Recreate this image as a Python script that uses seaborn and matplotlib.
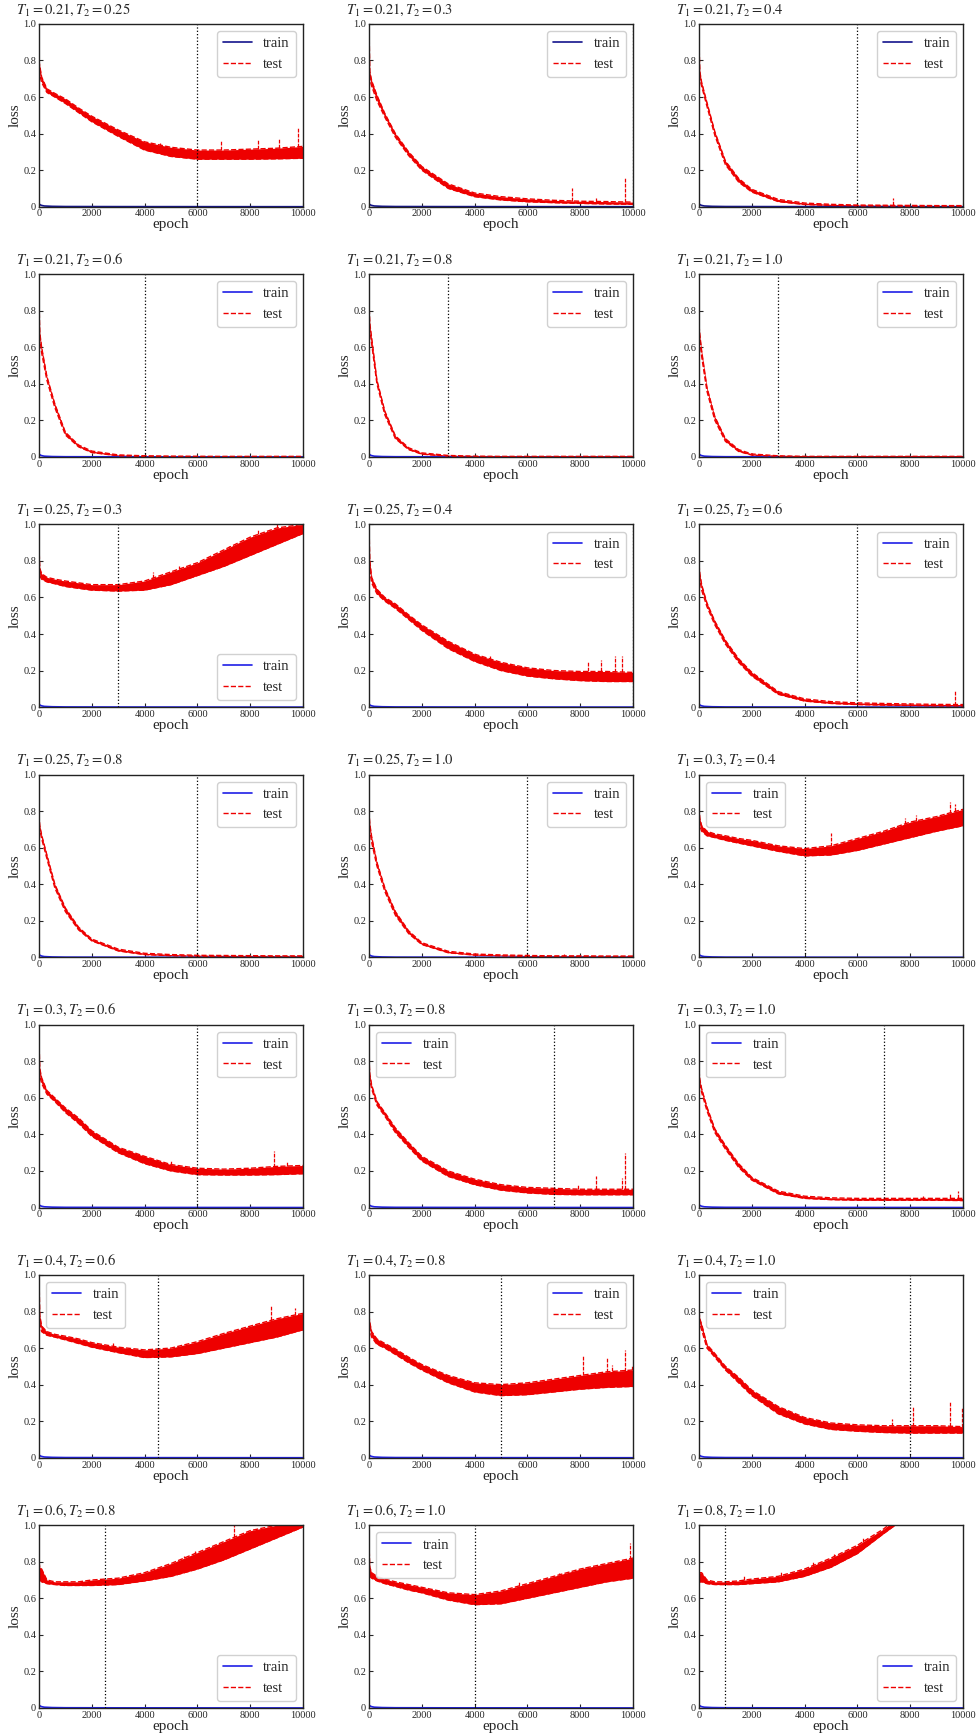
import numpy as np
import matplotlib
matplotlib.use("Agg")
import matplotlib.pyplot as plt
import seaborn as sns

# ---------------- data ----------------
T1 = ['0.21'] * 6 + ['0.25'] * 5 + ['0.3'] * 4 + ['0.4'] * 3 + ['0.6', '0.6', '0.8']
T2 = ['0.25', '0.3', '0.4', '0.6', '0.8', '1.0',
      '0.3', '0.4', '0.6', '0.8', '1.0',
      '0.4', '0.6', '0.8', '1.0',
      '0.6', '0.8', '1.0',
      '0.8', '1.0', '1.0']

epochs = [0, 30, 100, 300, 600, 1000, 1500, 2000, 3000, 4000, 5000, 6000, 7000, 8000, 9000, 10000]

train_epochs = [0, 50, 100, 200, 500, 1000, 3000, 10000]
train_loss = [0.015, 0.010, 0.007, 0.004, 0.002, 0.001, 0.0005, 0.0]

test_lo = [
    [0.75, 0.72, 0.68, 0.625, 0.60, 0.565, 0.515, 0.465, 0.385, 0.31, 0.275, 0.26, 0.26, 0.26, 0.262, 0.265],
    [0.72, 0.70, 0.66, 0.58, 0.49, 0.38, 0.28, 0.20, 0.10, 0.055, 0.037, 0.027, 0.022, 0.018, 0.015, 0.013],
    [0.72, 0.70, 0.66, 0.55, 0.39, 0.23, 0.135, 0.08, 0.028, 0.012, 0.007, 0.005, 0.004, 0.003, 0.003, 0.003],
    [0.70, 0.65, 0.57, 0.42, 0.27, 0.12, 0.055, 0.024, 0.006, 0.003, 0.002, 0.002, 0.001, 0.001, 0.001, 0.001],
    [0.75, 0.70, 0.62, 0.40, 0.23, 0.10, 0.04, 0.015, 0.004, 0.002, 0.001, 0.001, 0.001, 0.001, 0.001, 0.001],
    [0.68, 0.64, 0.55, 0.36, 0.20, 0.085, 0.03, 0.01, 0.003, 0.001, 0.001, 0.001, 0.001, 0.001, 0.001, 0.001],
    [0.76, 0.72, 0.70, 0.685, 0.675, 0.66, 0.65, 0.64, 0.635, 0.64, 0.67, 0.72, 0.77, 0.83, 0.89, 0.95],
    [0.75, 0.75, 0.68, 0.62, 0.58, 0.54, 0.48, 0.42, 0.32, 0.25, 0.20, 0.17, 0.155, 0.145, 0.14, 0.14],
    [0.72, 0.70, 0.64, 0.55, 0.45, 0.345, 0.245, 0.17, 0.07, 0.033, 0.02, 0.014, 0.011, 0.009, 0.007, 0.006],
    [0.72, 0.70, 0.65, 0.54, 0.38, 0.25, 0.15, 0.09, 0.035, 0.015, 0.009, 0.006, 0.005, 0.004, 0.004, 0.004],
    [0.75, 0.70, 0.63, 0.50, 0.36, 0.23, 0.13, 0.07, 0.025, 0.012, 0.008, 0.005, 0.004, 0.004, 0.003, 0.003],
    [0.75, 0.72, 0.69, 0.665, 0.655, 0.64, 0.625, 0.61, 0.58, 0.555, 0.56, 0.585, 0.62, 0.655, 0.69, 0.72],
    [0.75, 0.72, 0.68, 0.62, 0.58, 0.52, 0.46, 0.39, 0.30, 0.24, 0.20, 0.18, 0.178, 0.178, 0.18, 0.185],
    [0.72, 0.70, 0.65, 0.56, 0.50, 0.41, 0.33, 0.255, 0.17, 0.125, 0.095, 0.08, 0.072, 0.07, 0.07, 0.07],
    [0.72, 0.68, 0.63, 0.53, 0.41, 0.32, 0.22, 0.15, 0.075, 0.05, 0.043, 0.04, 0.04, 0.04, 0.04, 0.038],
    [0.78, 0.74, 0.69, 0.67, 0.66, 0.645, 0.625, 0.605, 0.575, 0.548, 0.552, 0.57, 0.60, 0.63, 0.66, 0.70],
    [0.72, 0.70, 0.66, 0.62, 0.60, 0.565, 0.52, 0.48, 0.41, 0.36, 0.34, 0.345, 0.36, 0.375, 0.385, 0.39],
    [0.76, 0.73, 0.70, 0.60, 0.55, 0.48, 0.41, 0.34, 0.24, 0.185, 0.155, 0.145, 0.138, 0.135, 0.135, 0.135],
    [0.70, 0.70, 0.69, 0.68, 0.675, 0.67, 0.67, 0.67, 0.675, 0.695, 0.72, 0.76, 0.81, 0.87, 0.93, 0.99],
    [0.72, 0.72, 0.71, 0.695, 0.68, 0.665, 0.645, 0.63, 0.59, 0.565, 0.57, 0.60, 0.63, 0.66, 0.69, 0.71],
    [0.68, 0.69, 0.69, 0.68, 0.675, 0.675, 0.675, 0.68, 0.69, 0.72, 0.77, 0.845, 0.955, 1.06, 1.10, 1.15],
]

test_hi = [
    [0.80, 0.77, 0.71, 0.645, 0.62, 0.59, 0.54, 0.495, 0.42, 0.355, 0.325, 0.31, 0.31, 0.315, 0.32, 0.33],
    [1.00, 0.74, 0.69, 0.61, 0.51, 0.40, 0.30, 0.22, 0.125, 0.075, 0.055, 0.043, 0.035, 0.03, 0.028, 0.025],
    [0.90, 0.74, 0.68, 0.57, 0.41, 0.25, 0.155, 0.095, 0.04, 0.02, 0.013, 0.009, 0.008, 0.007, 0.006, 0.006],
    [0.87, 0.68, 0.60, 0.44, 0.29, 0.135, 0.065, 0.032, 0.011, 0.006, 0.004, 0.003, 0.003, 0.003, 0.003, 0.003],
    [0.85, 0.73, 0.65, 0.42, 0.25, 0.115, 0.05, 0.022, 0.008, 0.004, 0.003, 0.003, 0.003, 0.003, 0.003, 0.003],
    [0.72, 0.67, 0.58, 0.38, 0.22, 0.10, 0.04, 0.016, 0.006, 0.003, 0.003, 0.003, 0.003, 0.003, 0.003, 0.003],
    [0.88, 0.76, 0.73, 0.71, 0.70, 0.69, 0.68, 0.67, 0.67, 0.69, 0.74, 0.79, 0.86, 0.93, 0.98, 1.00],
    [1.00, 0.80, 0.71, 0.645, 0.60, 0.565, 0.505, 0.45, 0.36, 0.29, 0.245, 0.215, 0.20, 0.195, 0.195, 0.19],
    [0.78, 0.73, 0.67, 0.57, 0.47, 0.365, 0.265, 0.19, 0.085, 0.045, 0.03, 0.023, 0.02, 0.017, 0.015, 0.014],
    [0.78, 0.72, 0.67, 0.56, 0.40, 0.27, 0.165, 0.10, 0.045, 0.022, 0.015, 0.011, 0.01, 0.009, 0.008, 0.008],
    [0.80, 0.73, 0.66, 0.52, 0.38, 0.25, 0.145, 0.08, 0.033, 0.018, 0.013, 0.01, 0.008, 0.008, 0.007, 0.007],
    [0.82, 0.76, 0.72, 0.69, 0.675, 0.665, 0.65, 0.64, 0.61, 0.595, 0.61, 0.65, 0.69, 0.74, 0.77, 0.81],
    [0.92, 0.76, 0.71, 0.64, 0.60, 0.545, 0.49, 0.42, 0.33, 0.28, 0.235, 0.215, 0.21, 0.215, 0.225, 0.23],
    [0.82, 0.73, 0.67, 0.58, 0.52, 0.435, 0.355, 0.28, 0.20, 0.155, 0.125, 0.11, 0.105, 0.10, 0.10, 0.10],
    [0.75, 0.70, 0.65, 0.55, 0.43, 0.34, 0.24, 0.165, 0.09, 0.062, 0.053, 0.05, 0.05, 0.05, 0.05, 0.05],
    [1.00, 0.78, 0.72, 0.69, 0.675, 0.665, 0.65, 0.63, 0.605, 0.59, 0.60, 0.635, 0.68, 0.72, 0.76, 0.79],
    [0.78, 0.74, 0.69, 0.65, 0.625, 0.595, 0.55, 0.51, 0.45, 0.41, 0.40, 0.41, 0.43, 0.45, 0.47, 0.48],
    [0.80, 0.76, 0.73, 0.62, 0.57, 0.50, 0.44, 0.37, 0.28, 0.22, 0.19, 0.18, 0.175, 0.175, 0.175, 0.17],
    [0.80, 0.77, 0.76, 0.70, 0.69, 0.69, 0.69, 0.70, 0.71, 0.74, 0.79, 0.85, 0.91, 0.97, 1.00, 1.00],
    [0.90, 0.77, 0.74, 0.72, 0.705, 0.69, 0.675, 0.66, 0.63, 0.62, 0.64, 0.68, 0.72, 0.76, 0.79, 0.82],
    [0.74, 0.74, 0.74, 0.70, 0.69, 0.69, 0.695, 0.705, 0.72, 0.76, 0.82, 0.89, 0.98, 1.10, 1.15, 1.20],
]

spike_epochs = [
    [4600, 6900, 8300, 9100, 9800],
    [7700, 8600, 9700],
    [7350],
    [],
    [],
    [],
    [4300, 5300, 6400, 7200, 8300, 9000],
    [4600, 8300, 8800, 9300, 9600],
    [9700],
    [],
    [6000, 7400],
    [5000, 7800, 8200, 9500, 9700],
    [5000, 8900, 9400],
    [7900, 8600, 9600, 9700],
    [8500, 9500, 9800],
    [2800, 8800, 9700],
    [8100, 9000, 9200, 9700, 9950],
    [7300, 8100, 9500, 9950],
    [5500, 5900, 6700, 7400],
    [5700, 7200, 8200, 9400, 9900],
    [1700, 3100, 4300, 5100, 6200],
]
spike_tops = [
    [0.35, 0.36, 0.37, 0.37, 0.43],
    [0.10, 0.05, 0.16],
    [0.05],
    [],
    [],
    [],
    [0.74, 0.77, 0.82, 0.88, 0.97, 1.00],
    [0.28, 0.25, 0.26, 0.28, 0.28],
    [0.09],
    [],
    [0.02, 0.02],
    [0.68, 0.76, 0.78, 0.85, 0.84],
    [0.26, 0.31, 0.25],
    [0.13, 0.17, 0.16, 0.30],
    [0.065, 0.08, 0.09],
    [0.63, 0.83, 0.82],
    [0.56, 0.55, 0.51, 0.59, 0.50],
    [0.21, 0.28, 0.31, 0.27],
    [0.83, 0.86, 0.88, 1.00],
    [0.69, 0.74, 0.77, 0.80, 0.90],
    [0.72, 0.75, 0.80, 0.84, 0.93],
]

best_epoch = [6000, 10000, 6000, 4000, 3000, 3000, 3000, 10000, 6000, 6000, 6000, 4000,
              6000, 7000, 7000, 4500, 5000, 8000, 2500, 4000, 1000]

legend_loc = ['upper right'] * 6 + ['lower right', 'upper right', 'upper right',
              'upper right', 'upper right', 'upper left',
              'upper right', 'upper left', 'upper left',
              'upper left', 'upper right', 'upper left',
              'lower right', 'upper left', 'lower right']

xticks = [0, 2000, 4000, 6000, 8000, 10000]
xticklabels = ['0', '2000', '4000', '6000', '8000', '10000']
yticks = [0, 0.2, 0.4, 0.6, 0.8, 1.0]
yticklabels = ['0', '0.2', '0.4', '0.6', '0.8', '1.0']

# ---------------- style ----------------
sns.set_style('ticks')
plt.rcParams['font.family'] = ['Liberation Serif', 'DejaVu Serif']
plt.rcParams['mathtext.fontset'] = 'stix'
plt.rcParams['xtick.direction'] = 'in'
plt.rcParams['ytick.direction'] = 'in'

fig, axes = plt.subplots(7, 3, figsize=(9.77, 17.35), dpi=100)
fig.subplots_adjust(left=0.0399, right=0.9857, top=0.9862, bottom=0.0156,
                    wspace=0.25, hspace=0.369)

for i, ax in enumerate(axes.flat):
    train_color = '#14148c' if i < 3 else '#1f1fe6'
    sns.lineplot(x=train_epochs, y=train_loss, ax=ax, color=train_color,
                 lw=1.2, label='train')
    sns.lineplot(x=epochs, y=test_lo[i], ax=ax, color='#ee0000', lw=1.0,
                 linestyle='--', label='test')
    sns.lineplot(x=epochs, y=test_hi[i], ax=ax, color='#ee0000', lw=1.0,
                 linestyle='--', legend=False)
    ax.fill_between(epochs, test_lo[i], test_hi[i], color='#ee0000', lw=0)
    if spike_epochs[i]:
        base = np.interp(spike_epochs[i], epochs, test_hi[i])
        ax.vlines(spike_epochs[i], base, spike_tops[i], color='#ee0000',
                  lw=0.9, linestyles=(0, (3, 1)))
    ax.axvline(best_epoch[i], color='black', lw=0.9, linestyle=':')

    ax.set_xlim(0, 10000)
    ax.set_ylim(0, 1.0)
    ax.set_xticks(xticks)
    ax.set_xticklabels(xticklabels)
    ax.set_yticks(yticks)
    ax.set_yticklabels(yticklabels)
    ax.tick_params(labelsize=7.5, length=3, width=0.8, pad=2)
    for sp in ax.spines.values():
        sp.set_visible(True)
        sp.set_linewidth(1.0)
        sp.set_color('#222222')
    ax.set_xlabel('epoch', fontsize=11, labelpad=0)
    ax.set_ylabel('loss', fontsize=11, labelpad=1)
    ax.text(-0.088, 1.035, r'$T_1=%s, T_2=%s$' % (T1[i], T2[i]),
            transform=ax.transAxes, ha='left', va='bottom', fontsize=10.5)
    ax.legend(loc=legend_loc[i], fontsize=10.5, frameon=True, fancybox=True,
              edgecolor='0.8', framealpha=0.9, handlelength=2.0)

fig.savefig('out.png', dpi=100)
